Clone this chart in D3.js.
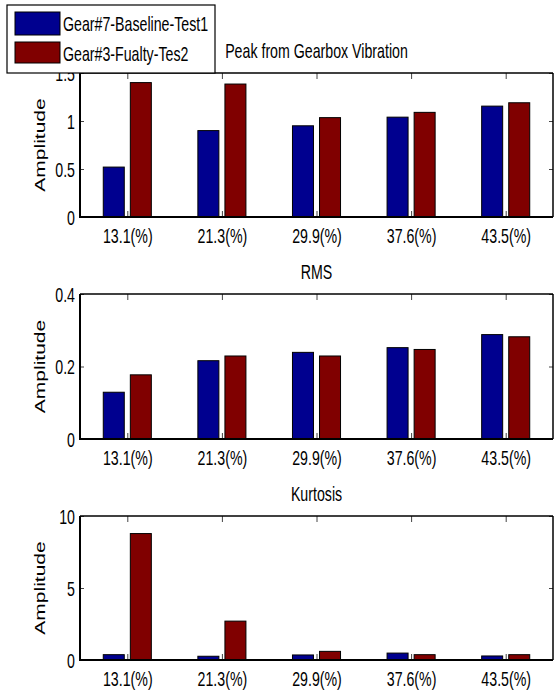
<!DOCTYPE html>
<html>
<head>
<meta charset="utf-8">
<script src="https://cdn.jsdelivr.net/npm/d3@7"></script>
<style>
  html, body { margin: 0; padding: 0; background: #fff; }
  svg { display: block; }
  text { font-family: Arial, "Liberation Sans", sans-serif; fill: #000; }
</style>
</head>
<body>
<svg id="chart" width="555" height="695"></svg>
<script>
// Load levels shown on each x axis
const categories = ["13.1(%)", "21.3(%)", "29.9(%)", "37.6(%)", "43.5(%)"];
const seriesNames = ["Gear#7-Baseline-Test1", "Gear#3-Fualty-Tes2"];

// Peak amplitude
const peakBaseline = [0.52, 0.90, 0.95, 1.04, 1.155];
const peakFaulty   = [1.40, 1.385, 1.035, 1.09, 1.19];
const peakTicks    = [0, 0.5, 1, 1.5];

// RMS
const rmsBaseline = [0.129, 0.216, 0.239, 0.252, 0.288];
const rmsFaulty   = [0.177, 0.229, 0.229, 0.247, 0.282];
const rmsTicks    = [0, 0.2, 0.4];

// Kurtosis
const kurtBaseline = [0.37, 0.26, 0.35, 0.48, 0.28];
const kurtFaulty   = [8.78, 2.70, 0.60, 0.37, 0.37];
const kurtTicks    = [0, 5, 10];

const colors = ["#00008f", "#800000"];
const SX = 0.71;          // horizontal condensing of all lettering
const FONT = 20;

const panels = [
  { title: "Peak from Gearbox Vibration", top: 73,  bottom: 217, ticks: peakTicks, series: [peakBaseline, peakFaulty] },
  { title: "RMS",                         top: 294, bottom: 439, ticks: rmsTicks,  series: [rmsBaseline, rmsFaulty] },
  { title: "Kurtosis",                    top: 516, bottom: 660, ticks: kurtTicks, series: [kurtBaseline, kurtFaulty] }
];

const svg = d3.select("#chart");
svg.append("rect").attr("width", 555).attr("height", 695).attr("fill", "#fff");

const left = 80, right = 553;
const x = d3.scaleLinear().domain([0.5, categories.length + 0.5]).range([left, right]);
const idx = categories.map((_, i) => i + 1);

// bar placement inside each group, in category units
const barW = 0.222;
const barStart = [-0.254, 0.032];

panels.forEach(p => {
  const y = d3.scaleLinear().domain([0, d3.max(p.ticks)]).range([p.bottom, p.top]);
  const g = svg.append("g");

  // bars
  p.series.forEach((vals, s) => {
    g.selectAll(null).data(vals).join("rect")
      .attr("x", (d, i) => x(i + 1 + barStart[s]))
      .attr("width", x(barW) - x(0))
      .attr("y", d => y(d))
      .attr("height", d => y(0) - y(d))
      .attr("fill", colors[s])
      .attr("stroke", "#000")
      .attr("stroke-width", 1);
  });

  // bottom axis with inward ticks and category labels
  const xb = g.append("g").attr("transform", `translate(0,${p.bottom})`)
    .call(d3.axisBottom(x).tickValues(idx).tickFormat(i => categories[i - 1]).tickSizeInner(-6).tickSizeOuter(0));
  xb.select(".domain").remove();
  xb.selectAll(".tick line").attr("stroke", "#444");
  xb.selectAll(".tick text")
    .attr("y", 26).attr("dy", null)
    .attr("transform", `scale(${SX},1)`)
    .attr("font-size", FONT).attr("font-family", "Arial, 'Liberation Sans', sans-serif");

  // top axis: ticks only
  const xt = g.append("g").attr("transform", `translate(0,${p.top})`)
    .call(d3.axisTop(x).tickValues(idx).tickFormat("").tickSizeInner(-6).tickSizeOuter(0));
  xt.select(".domain").remove();
  xt.selectAll(".tick line").attr("stroke", "#444");

  // left axis with values
  const yl = g.append("g").attr("transform", `translate(${left},0)`)
    .call(d3.axisLeft(y).tickValues(p.ticks).tickFormat(d => String(d)).tickSizeInner(-4).tickSizeOuter(0));
  yl.select(".domain").remove();
  yl.selectAll(".tick line").attr("stroke", "#444");
  yl.selectAll(".tick text")
    .attr("x", -5 / SX).attr("dy", "0.35em")
    .attr("text-anchor", "end")
    .attr("transform", `scale(${SX},1)`)
    .attr("font-size", FONT).attr("font-family", "Arial, 'Liberation Sans', sans-serif");

  // right axis: ticks only
  const yr = g.append("g").attr("transform", `translate(${right},0)`)
    .call(d3.axisRight(y).tickValues(p.ticks).tickFormat("").tickSizeInner(-4).tickSizeOuter(0));
  yr.select(".domain").remove();
  yr.selectAll(".tick line").attr("stroke", "#444");

  // frame
  g.append("line").attr("x1", left).attr("x2", right).attr("y1", p.top).attr("y2", p.top)
    .attr("stroke", "#000").attr("stroke-width", 1.5);
  g.append("line").attr("x1", right).attr("x2", right).attr("y1", p.top).attr("y2", p.bottom)
    .attr("stroke", "#000").attr("stroke-width", 1.5);
  g.append("line").attr("x1", left).attr("x2", left).attr("y1", p.top).attr("y2", p.bottom + 1)
    .attr("stroke", "#000").attr("stroke-width", 2);
  g.append("line").attr("x1", left - 1).attr("x2", right).attr("y1", p.bottom).attr("y2", p.bottom)
    .attr("stroke", "#000").attr("stroke-width", 2);

  // title
  g.append("text")
    .attr("transform", `translate(${(left + right) / 2},${p.top - 15}) scale(${SX},1)`)
    .attr("text-anchor", "middle")
    .attr("font-size", FONT)
    .text(p.title);

  // y label
  g.append("text")
    .attr("transform", `translate(45,${(p.top + p.bottom) / 2}) rotate(-90) scale(1,${SX})`)
    .attr("text-anchor", "middle")
    .attr("font-size", 21)
    .text("Amplitude");
});

// legend
const lg = svg.append("g");
lg.append("rect").attr("x", 7).attr("y", 5).attr("width", 208).attr("height", 68)
  .attr("fill", "#fff").attr("stroke", "#000").attr("stroke-width", 1.2);
const rowY = [12, 42];
const rowH = [23, 21];
seriesNames.forEach((name, s) => {
  lg.append("rect").attr("x", 15).attr("y", rowY[s]).attr("width", 45).attr("height", rowH[s])
    .attr("fill", colors[s]).attr("stroke", "#000").attr("stroke-width", 1);
  lg.append("text")
    .attr("transform", `translate(63,${rowY[s] + 19}) scale(${SX},1)`)
    .attr("font-size", FONT)
    .text(name);
});
</script>
</body>
</html>
